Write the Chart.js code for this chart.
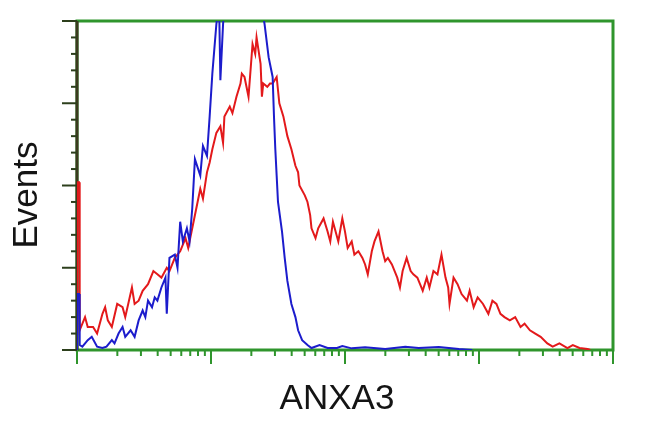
<!DOCTYPE html>
<html>
<head>
<meta charset="utf-8">
<script src="https://cdn.jsdelivr.net/npm/chart.js@4"></script>
<style>
  html, body { margin: 0; padding: 0; background: #fff; }
  #wrap { width: 650px; height: 432px; }
</style>
</head>
<body>
<div id="wrap"><canvas id="histChart" width="650" height="432"></canvas></div>
<script>
// x in decades of fluorescence (0..4, log display), y in % of max events
const redX = [0, 0, 0.015, 0.02, 0.06, 0.08, 0.12, 0.15, 0.19, 0.21,
  0.23, 0.26, 0.30, 0.34, 0.36, 0.41, 0.43, 0.46, 0.49, 0.53,
  0.57, 0.60, 0.63, 0.67, 0.69, 0.73, 0.77, 0.81, 0.83, 0.86,
  0.90, 0.92, 0.94, 0.97, 0.99, 1.01, 1.04, 1.07, 1.09, 1.10,
  1.14, 1.16, 1.19, 1.22, 1.23, 1.25, 1.28, 1.31, 1.33, 1.34,
  1.37, 1.38, 1.39, 1.42, 1.44, 1.46, 1.49, 1.51, 1.54, 1.57,
  1.60, 1.63, 1.65, 1.66, 1.70, 1.72, 1.74, 1.75, 1.78, 1.80,
  1.84, 1.87, 1.89, 1.91, 1.95, 1.98, 2.00, 2.02, 2.05, 2.07,
  2.10, 2.13, 2.15, 2.17, 2.20, 2.22, 2.25, 2.28, 2.30, 2.32,
  2.35, 2.39, 2.41, 2.43, 2.46, 2.49, 2.51, 2.54, 2.56, 2.58,
  2.61, 2.63, 2.66, 2.69, 2.71, 2.72, 2.75, 2.77, 2.78, 2.81,
  2.84, 2.87, 2.91, 2.93, 2.96, 2.99, 3.03, 3.07, 3.10, 3.13,
  3.16, 3.19, 3.23, 3.27, 3.31, 3.34, 3.38, 3.42, 3.46, 3.51,
  3.55, 3.60, 3.66, 3.70, 3.75, 3.81, 3.83];
const redY = [0, 51, 51, 6, 10, 7, 7, 5, 11, 13,
  9, 7, 14, 13, 10, 19, 14, 15, 18, 20,
  24, 23, 22, 25, 24, 28, 30, 34, 31, 37,
  45, 49, 46, 54, 57, 61, 66, 68, 63, 71,
  74, 72, 77, 81, 84, 83, 77, 93, 90, 95,
  87, 77, 81, 80, 81, 81, 83, 75, 71, 65,
  61, 56, 54, 50, 47, 45, 41, 37, 34, 37,
  40, 36, 33, 39, 33, 40, 36, 31, 33, 29,
  30, 28, 26, 23, 30, 33, 36, 30, 27, 28,
  26, 22, 19, 24, 28, 24, 23, 22, 20, 18,
  22, 19, 24, 23, 27, 29, 22, 19, 14, 22,
  20, 17, 15, 18, 13, 16, 14, 11, 15, 14,
  11, 10, 9, 10, 7, 8, 6, 5, 4, 2,
  1, 2, 0.6, 1.5, 0.6, 0.3, 0];

const blueX = [0, 0, 0.015, 0.02, 0.04, 0.08, 0.11, 0.15, 0.19, 0.22,
  0.26, 0.28, 0.31, 0.34, 0.36, 0.40, 0.43, 0.46, 0.49, 0.51,
  0.53, 0.56, 0.58, 0.60, 0.63, 0.66, 0.67, 0.69, 0.73, 0.75,
  0.77, 0.79, 0.82, 0.84, 0.86, 0.88, 0.92, 0.94, 0.97, 0.99,
  1.01, 1.04, 1.06, 1.07, 1.09, 1.11, 1.18, 1.25, 1.33, 1.38,
  1.40, 1.43, 1.44, 1.46, 1.47, 1.48, 1.49, 1.50, 1.53, 1.55,
  1.57, 1.60, 1.63, 1.65, 1.68, 1.72, 1.75, 1.81, 1.87, 1.94,
  1.98, 2.05, 2.15, 2.30, 2.45, 2.55, 2.70, 2.85, 2.95];
const blueY = [0, 17, 17, 1.5, 1, 3, 4, 1, 0.6, 1,
  3, 2, 5, 7, 4, 6, 4, 9, 12, 10,
  15, 13, 16, 15, 19, 22, 11, 28, 29, 25,
  39, 33, 37, 33, 43, 58, 53, 62, 59, 71,
  84, 99, 106, 82, 99, 110, 118, 120, 115, 104,
  99, 89, 87, 83, 71, 61, 53, 45, 36, 28,
  21, 14, 10, 6, 3, 1.5, 0.6, 1.5, 0.6, 0.6,
  1.2, 0.5, 0.8, 0.3, 1, 0.6, 0.9, 0.3, 0];

const decades = [0, 1, 2, 3, 4];
const yMajor = [0, 25, 50, 75, 100];
const xTitle = 'ANXA3';
const yTitle = 'Events';

const toPoints = (xs, ys) => xs.map((x, i) => ({ x: x, y: ys[i] }));

// frame, log ticks and axis titles
const frame = {
  id: 'frame',
  beforeDatasetsDraw(chart) {
    const { ctx, chartArea: a, scales } = chart;
    const xs = scales.x, ys = scales.y;
    ctx.save();
    ctx.strokeStyle = '#2f952c';
    ctx.lineWidth = 3;
    ctx.strokeRect(a.left, a.top, a.right - a.left, a.bottom - a.top);
    ctx.strokeStyle = '#3b3a1e';
    ctx.beginPath();
    ctx.moveTo(a.left, a.top);
    ctx.lineTo(a.left, a.bottom + 1);
    ctx.stroke();

    // x ticks: decades + 2..9
    ctx.strokeStyle = '#2f952c';
    ctx.lineWidth = 2;
    decades.forEach(d => {
      const px = xs.getPixelForValue(d);
      ctx.beginPath(); ctx.moveTo(px, a.bottom); ctx.lineTo(px, a.bottom + 14); ctx.stroke();
      if (d < 4) {
        for (let k = 2; k <= 9; k++) {
          const p = xs.getPixelForValue(d + Math.log10(k));
          ctx.beginPath(); ctx.moveTo(p, a.bottom); ctx.lineTo(p, a.bottom + 6); ctx.stroke();
        }
      }
    });

    // y ticks
    ctx.strokeStyle = '#2c3f1c';
    for (let v = 0; v <= 100; v += 5) {
      const py = ys.getPixelForValue(v);
      const len = yMajor.includes(v) ? 15 : 6;
      ctx.beginPath(); ctx.moveTo(a.left - len, py); ctx.lineTo(a.left, py); ctx.stroke();
    }
    ctx.restore();
  },
  afterDraw(chart) {
    const { ctx, chartArea: a } = chart;
    ctx.save();
    ctx.fillStyle = '#141414';
    ctx.font = '35px "Liberation Sans", Arial, sans-serif';
    ctx.textAlign = 'center';
    ctx.textBaseline = 'alphabetic';
    ctx.fillText(xTitle, (a.left + a.right) / 2 - 8, 409);
    ctx.translate(37, 195);
    ctx.rotate(-Math.PI / 2);
    ctx.fillText(yTitle, 0, 0);
    ctx.restore();
  }
};

const ctx = document.getElementById('histChart').getContext('2d');
const histChart = new Chart(ctx, {
  type: 'line',
  data: {
    datasets: [{
      label: 'control',
      data: toPoints(blueX, blueY),
      borderColor: '#1c1ccc',
      borderWidth: 2,
      pointRadius: 0,
      tension: 0
    }, {
      label: 'ANXA3',
      data: toPoints(redX, redY),
      borderColor: '#e3191b',
      borderWidth: 2,
      pointRadius: 0,
      tension: 0
    }]
  },
  options: {
    responsive: false,
    animation: false,
    layout: { padding: { left: 77, right: 37, top: 21, bottom: 82 } },
    plugins: { legend: { display: false }, tooltip: { enabled: false } },
    scales: {
      x: { type: 'linear', min: 0, max: 4, display: false },
      y: { type: 'linear', min: 0, max: 100, display: false }
    }
  },
  plugins: [frame]
});
</script>
</body>
</html>
